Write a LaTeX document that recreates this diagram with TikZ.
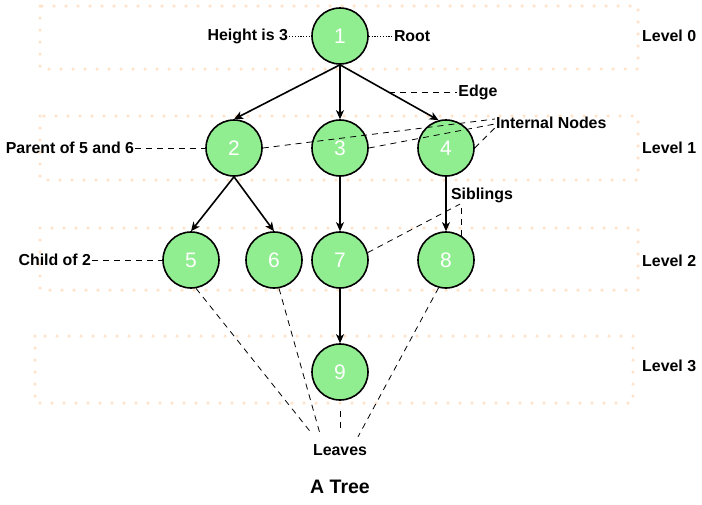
\documentclass[tikz,border=0pt]{standalone}
\usepackage{fontspec}
\setmainfont{Liberation Sans}
\usetikzlibrary{arrows.meta, positioning}
\definecolor{TreeGreen}{RGB}{144,238,144}
\definecolor{BandPeach}{RGB}{255,226,200}

\begin{document}
\begin{tikzpicture}[x=1pt, y=-1pt,
    vertex/.style={circle, draw=black, line width=1.6pt, fill=TreeGreen, minimum size=56pt, inner sep=0pt, on grid, text=white, font=\fontsize{21}{24}\selectfont},
    lbl/.style={inner sep=1pt, font=\fontsize{15.9}{18}\selectfont\bfseries},
    title/.style={inner sep=1pt, font=\fontsize{19.5}{22}\selectfont\bfseries},
    band/.style={draw=BandPeach, line width=3.5pt, line cap=round, dash pattern=on 0pt off 12pt},
    arrow/.style={-{Stealth[length=9pt, width=8pt, inset=2.5pt]}, line width=1.6pt},
    hint/.style={dash pattern=on 6pt off 5pt, line width=0.8pt},
    dots/.style={dash pattern=on 1.2pt off 1.6pt, line width=1pt}
]
\useasboundingbox (0,0) rectangle (702,504);

% level bands
\draw[band] (40,6) rectangle (638,69);
\draw[band] (40,116) rectangle (638,180);
\draw[band] (40,228) rectangle (638,290);
\draw[band] (35,336) rectangle (633,403);

\node[lbl, anchor=west] (lv0) at (641,36) {Level 0};
\node[lbl, anchor=west] (lv1) at (641,148) {Level 1};
\node[lbl, anchor=west] (lv2) at (641,261) {Level 2};
\node[lbl, anchor=west] (lv3) at (641,366) {Level 3};

% the tree
\node[vertex] (n1) at (340,36) {1};
\node[vertex, below=112pt of n1] (n3) {3};
\node[vertex, left=106pt of n3] (n2) {2};
\node[vertex, right=106pt of n3] (n4) {4};
\node[vertex, below left=112pt and 43pt of n2] (n5) {5};
\node[vertex, below right=112pt and 40pt of n2] (n6) {6};
\node[vertex, below=112pt of n3] (n7) {7};
\node[vertex, below=112pt of n4] (n8) {8};
\node[vertex, below=112pt of n7] (n9) {9};

\draw[arrow] (n1.south) -- (n2.north);
\draw[arrow] (n1.south) -- (n3.north);
\draw[arrow] (n1.south) -- coordinate[pos=.5] (emid) (n4.105);
\draw[arrow] (n2.south) -- (n5.north);
\draw[arrow] (n2.south) -- (n6.north);
\draw[arrow] (n3.south) -- (n7.north);
\draw[arrow] (n4.south) -- (n8.north);
\draw[arrow] (n7.south) -- (n9.north);

% annotations
\node[lbl, left=22pt of n1] (hgt) {Height is 3};
\node[lbl, right=24pt of n1] (root) {Root};
\node[lbl, right=68pt of emid] (edge) {Edge};
\node[lbl, right=20pt of n4, yshift=25pt] (intl) {Internal Nodes};
\node[lbl, left=70pt of n2] (par) {Parent of 5 and 6};
\node[lbl, below=10pt of n4, xshift=36pt] (sib) {Siblings};
\node[lbl, left=70pt of n5] (chd) {Child of 2};
\node[lbl, below=43pt of n9] (lvs) {Leaves};
\node[title, below=22pt of lvs] (cap) {A Tree};

\draw[dots] (hgt.east) -- (n1.west);
\draw[dots] (n1.east) -- (root.west);
\draw[hint] (emid) -- (edge.west);
\draw[hint] (n2.east) -- ([yshift=4pt]intl.west);
\draw[hint] (n3.east) -- ([yshift=-1pt]intl.west);
\draw[hint] (n4.east) -- ([yshift=-5pt]intl.west);
\draw[hint] (par.east) -- (n2.west);
\draw[hint] (n7.15) -- ([xshift=-22pt]sib.south);
\draw[hint] (n8.58) -- (n8.58 |- sib.south);
\draw[hint] (chd.east) -- (n5.west);
\draw[hint] (n5.-80) -- ([xshift=-28pt, yshift=10pt]lvs.north);
\draw[hint] (n6.-80) -- ([xshift=-20pt, yshift=10pt]lvs.north);
\draw[hint, shorten <=10pt] (n9.south) -- ([yshift=16pt]lvs.north);
\draw[hint] (n8.-105) -- ([xshift=18pt, yshift=7pt]lvs.north);
\end{tikzpicture}
\end{document}
